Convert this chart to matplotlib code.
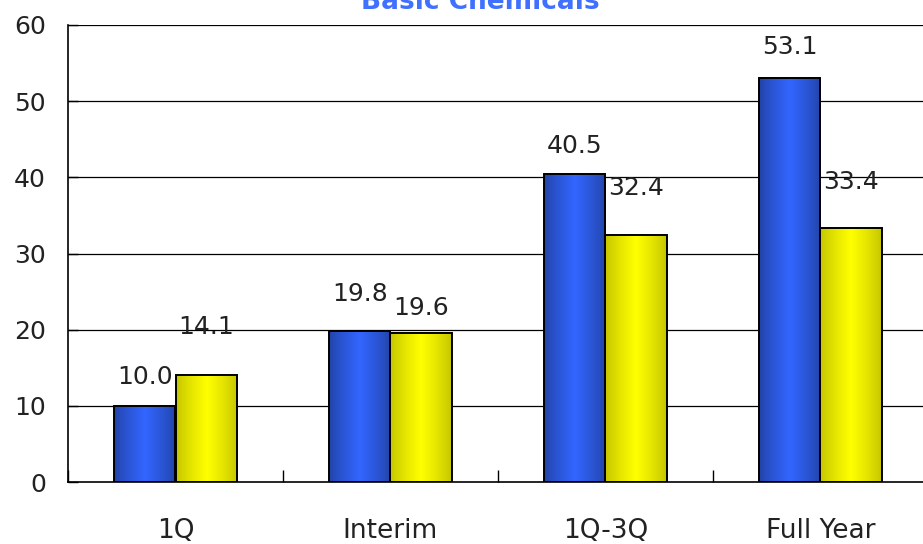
import numpy as np
import matplotlib
matplotlib.use("Agg")
import matplotlib.pyplot as plt
from matplotlib.patches import Rectangle

# Data
categories = ["1Q", "Interim", "1Q-3Q", "Full Year"]
series_a = [10.0, 19.8, 40.5, 53.1]
series_b = [14.1, 19.6, 32.4, 33.4]
y_ticks = [0, 10, 20, 30, 40, 50, 60]

# Label offsets above bar tops (in points)
offset_a = [21, 27, 20, 22]
offset_b = [34, 18, 34, 33]

plt.rcParams["font.family"] = ["DejaVu Sans"]

fig = plt.figure(figsize=(9.23, 5.44), dpi=100)
ax = fig.add_axes([68 / 923, 62 / 544, 860 / 923, 457 / 544])

bar_w = 0.285


def gradient_colors(edge, center, n=128, peak=0.5):
    t = np.linspace(0, 1, n)
    w = 1 - np.abs(t - peak) / np.maximum(peak, 1 - peak)
    w = np.clip(w, 0, 1) ** 0.8
    edge = np.array(edge) / 255.0
    center = np.array(center) / 255.0
    cols = edge[None, :] * (1 - w[:, None]) + center[None, :] * w[:, None]
    return cols[None, :, :]


grad_a = gradient_colors((33, 66, 165), (51, 102, 255))
grad_b = gradient_colors((195, 195, 0), (255, 255, 0))


def draw_bar(x0, h, grad):
    ax.imshow(grad, extent=(x0, x0 + bar_w, 0, h), aspect="auto",
              interpolation="bilinear", zorder=3)
    ax.add_patch(Rectangle((x0, 0), bar_w, h, fill=False, edgecolor="black",
                           linewidth=1.4, zorder=4))


for i, (va, vb) in enumerate(zip(series_a, series_b)):
    c = i + 0.5
    draw_bar(c - bar_w, va, grad_a)
    draw_bar(c, vb, grad_b)
    ax.annotate(f"{va:.1f}", (c - bar_w / 2, va), xytext=(0, offset_a[i]),
                textcoords="offset points", ha="center", va="center",
                fontsize=18, color="#222222", zorder=5)
    ax.annotate(f"{vb:.1f}", (c + bar_w / 2, vb), xytext=(0, offset_b[i]),
                textcoords="offset points", ha="center", va="center",
                fontsize=18, color="#222222", zorder=5)

ax.set_xlim(0, 4)
ax.set_ylim(0, 60)

# Gridlines
for y in y_ticks[1:]:
    ax.axhline(y, color="black", linewidth=0.9, zorder=1)

ax.set_yticks(y_ticks)
ax.set_yticklabels([str(v) for v in y_ticks], fontsize=18, color="#222222")
ax.tick_params(axis="y", direction="in", length=7, width=1, pad=16)

ax.set_xticks([0, 1, 2, 3, 4])
ax.set_xticklabels([])
ax.tick_params(axis="x", direction="in", length=9, width=1)
for i, cat in enumerate(categories):
    ax.text(i + 0.5, -6.4, cat, ha="center", va="center", fontsize=19,
            color="#222222")

for side in ["top", "right"]:
    ax.spines[side].set_visible(False)
ax.spines["left"].set_linewidth(1.2)
ax.spines["bottom"].set_linewidth(1.2)

fig.text(480 / 923, 1 - 2 / 544, "Basic Chemicals", ha="center", va="center",
         fontsize=19, fontweight="bold", color="#4070FF")

fig.savefig("out.png", dpi=100)
